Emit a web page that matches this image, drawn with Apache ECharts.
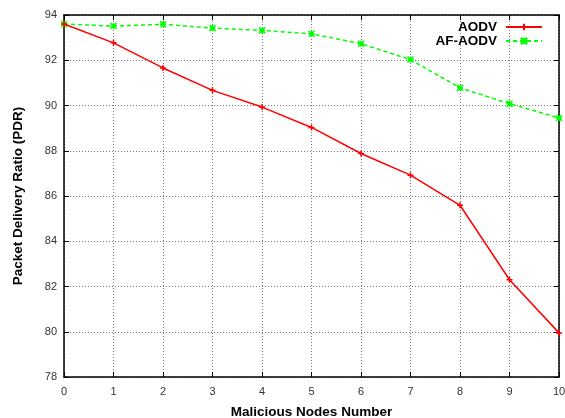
<!DOCTYPE html>
<html>
<head>
<meta charset="utf-8">
<script src="https://cdn.jsdelivr.net/npm/echarts@6/dist/echarts.min.js"></script>
<style>
  html, body { margin: 0; padding: 0; background: #fff; }
  #chart { width: 565px; height: 418px; }
</style>
</head>
<body>
<div id="chart"></div>
<script>
// Malicious node counts on the x axis
const maliciousNodes = [0, 1, 2, 3, 4, 5, 6, 7, 8, 9, 10];
// Packet delivery ratio (%) for each protocol
const aodvPdr   = [93.6, 92.77, 91.66, 90.67, 89.93, 89.03, 87.88, 86.92, 85.59, 82.3, 79.95];
const afAodvPdr = [93.6, 93.51, 93.59, 93.42, 93.32, 93.17, 92.73, 92.03, 90.78, 90.08, 89.45];
const yTicks = [78, 80, 82, 84, 86, 88, 90, 92, 94];

const FONT = '"Liberation Sans", Arial, Helvetica, sans-serif';
const pairs = (ys) => maliciousNodes.map((x, i) => [x, ys[i]]);

const plusSymbol = 'path://M0,5 L10,5 M5,0 L5,10';
const starSymbol = 'path://M0,0 L10,10 M10,0 L0,10 M5,0 L5,10 M0,5 L10,5';

const gridLine = { show: true, lineStyle: { color: '#777', width: 1, type: [1, 2] } };
const tickIn = { show: true, inside: true, length: 5, lineStyle: { color: '#000', width: 1 } };
const border = { show: true, onZero: false, lineStyle: { color: '#000', width: 1.5 } };
const legendText = { fontFamily: FONT, fontWeight: 'bold', fontSize: 13.5, color: '#000', padding: [0, 4, 0, 0] };

const chart = echarts.init(document.getElementById('chart'), null, { renderer: 'canvas' });
chart.setOption({
  animation: false,
  backgroundColor: '#fff',
  grid: { left: 64, right: 6, top: 15, bottom: 41, containLabel: false, outerBoundsMode: 'none' },
  legend: [
    {
      data: ['AODV'], right: 22, top: 20, orient: 'vertical', align: 'right',
      itemWidth: 36, itemHeight: 8, padding: 0, textStyle: legendText
    },
    {
      data: ['AF-AODV'], right: 22, top: 34, orient: 'vertical', align: 'right',
      itemWidth: 36, itemHeight: 8, padding: 0, textStyle: legendText
    }
  ],
  xAxis: [
    {
      type: 'value', min: 0, max: 10, interval: 1,
      name: 'Malicious Nodes Number', nameLocation: 'middle', nameGap: 28,
      nameTextStyle: { fontFamily: FONT, fontWeight: 'bold', fontSize: 13.5, color: '#000' },
      axisLine: border, axisTick: tickIn, splitLine: gridLine,
      axisLabel: { fontFamily: FONT, fontSize: 11, color: '#333', margin: 9, formatter: (v) => maliciousNodes.includes(v) ? String(v) : '' }
    },
    {
      type: 'value', min: 0, max: 10, interval: 1, position: 'top',
      axisLine: border, axisTick: tickIn, splitLine: { show: false }, axisLabel: { show: false }
    }
  ],
  yAxis: [
    {
      type: 'value', min: yTicks[0], max: yTicks[yTicks.length - 1], interval: 2,
      name: 'Packet Delivery Ratio (PDR)', nameLocation: 'middle', nameGap: 39,
      nameTextStyle: { fontFamily: FONT, fontWeight: 'bold', fontSize: 13.5, color: '#000' },
      axisLine: border, axisTick: tickIn, splitLine: gridLine,
      axisLabel: { fontFamily: FONT, fontSize: 11, color: '#333', margin: 7, formatter: (v) => yTicks.includes(v) ? String(v) : '' }
    },
    {
      type: 'value', min: yTicks[0], max: yTicks[yTicks.length - 1], interval: 2, position: 'right',
      axisLine: border, axisTick: tickIn, splitLine: { show: false }, axisLabel: { show: false }
    }
  ],
  series: [
    {
      name: 'AODV', type: 'line', data: pairs(aodvPdr),
      symbol: plusSymbol, symbolSize: 6, showSymbol: true,
      lineStyle: { color: '#ff0000', width: 1.5 },
      itemStyle: { color: '#ff0000', borderColor: '#ff0000', borderWidth: 1.5 },
      emphasis: { disabled: true }, z: 3
    },
    {
      name: 'AF-AODV', type: 'line', data: pairs(afAodvPdr),
      symbol: starSymbol, symbolSize: 6, showSymbol: true,
      lineStyle: { color: '#00ff00', width: 1.5, type: [4, 3] },
      itemStyle: { color: '#00ff00', borderColor: '#00ff00', borderWidth: 1.5 },
      emphasis: { disabled: true }, z: 2
    }
  ]
});
</script>
</body>
</html>
